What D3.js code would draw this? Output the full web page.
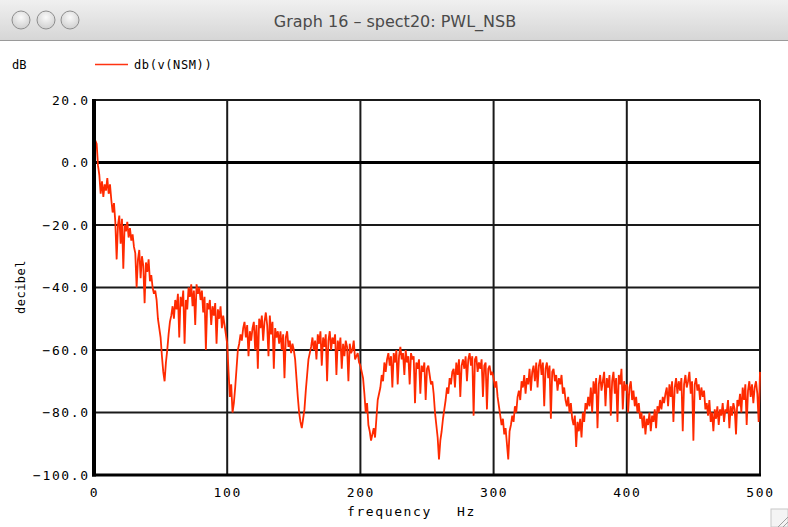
<!DOCTYPE html>
<html>
<head>
<meta charset="utf-8">
<script src="https://cdn.jsdelivr.net/npm/d3@7"></script>
<style>
  body { margin: 0; background: #fff; }
  svg { display: block; }
</style>
</head>
<body>
<script>
'use strict';

// chart text
const windowTitle = "Graph 16 \u2013 spect20: PWL_NSB";
const legendUnit = "dB";
const seriesName = "db(v(NSM))";
const xTitle = "frequency";
const xUnit = "Hz";
const yTitle = "decibel";

// axes
const xTicks = [0, 100, 200, 300, 400, 500];
const yTicks = [20, 0, -20, -40, -60, -80, -100];

// spectrum, one value per Hz starting at 0 Hz
const freqStep = 1;
const dbValues = [
  4, 7, 6, -1, -4, -10, -6, -11, -7, -9,
  -5, -10, -7, -12, -16, -13, -19, -31, -20, -17,
  -26, -18, -34, -20, -22, -19, -24, -21, -25, -23,
  -27, -29, -40, -31, -28, -37, -30, -33, -45, -32,
  -35, -31, -38, -36, -40, -42, -41, -44, -50, -53,
  -56, -62, -67, -70, -64, -60, -55, -51, -49, -46,
  -50, -44, -47, -42, -56, -43, -46, -41, -58, -44,
  -47, -40, -43, -39, -46, -41, -52, -39, -42, -40,
  -44, -41, -48, -43, -60, -45, -47, -44, -52, -46,
  -49, -45, -58, -47, -50, -46, -53, -49, -52, -55,
  -58, -67, -75, -71, -80, -77, -72, -66, -60, -58,
  -55, -57, -53, -51, -56, -52, -62, -54, -57, -53,
  -51, -60, -52, -66, -50, -53, -49, -57, -51, -48,
  -52, -62, -49, -55, -51, -66, -53, -56, -54, -58,
  -54, -60, -55, -69, -56, -54, -59, -57, -61, -58,
  -60, -63, -69, -75, -80, -83, -85, -82, -79, -73,
  -68, -63, -61, -59, -56, -60, -57, -63, -55, -58,
  -54, -65, -56, -59, -55, -70, -57, -54, -60, -56,
  -58, -55, -68, -57, -60, -56, -66, -58, -62, -57,
  -59, -70, -58, -61, -60, -57, -63, -62, -61, -64,
  -65, -67, -69, -74, -80, -77, -84, -86, -89, -87,
  -85, -88, -82, -76, -74, -72, -68, -70, -64, -67,
  -63, -61, -65, -62, -72, -61, -64, -60, -71, -62,
  -59, -63, -61, -68, -60, -64, -62, -71, -61, -63,
  -62, -77, -64, -66, -63, -74, -65, -67, -64, -76,
  -66, -65, -68, -71, -70, -74, -80, -84, -88, -95,
  -89, -86, -82, -79, -76, -72, -74, -69, -71, -67,
  -66, -72, -64, -68, -63, -75, -65, -63, -66, -62,
  -70, -63, -61, -65, -62, -81, -63, -62, -67, -64,
  -66, -63, -75, -65, -64, -79, -66, -65, -68, -67,
  -69, -72, -70, -75, -78, -81, -84, -82, -87, -85,
  -90, -95, -86, -84, -81, -83, -78, -80, -75, -73,
  -76, -70, -72, -68, -74, -69, -71, -66, -73, -67,
  -65, -70, -64, -72, -65, -63, -68, -64, -78, -66,
  -64, -69, -65, -82, -67, -66, -70, -68, -73, -69,
  -71, -68, -74, -72, -76, -78, -75, -80, -77, -82,
  -84, -81, -91, -83, -86, -82, -88, -80, -83, -77,
  -79, -75, -78, -72, -80, -70, -74, -69, -85, -71,
  -68, -73, -70, -67, -78, -69, -72, -68, -81, -70,
  -67, -74, -69, -83, -68, -71, -66, -79, -70, -73,
  -71, -80, -72, -70, -76, -73, -78, -75, -80, -77,
  -82, -80, -85, -81, -87, -82, -84, -80, -86, -81,
  -83, -79, -85, -78, -80, -76, -79, -75, -77, -74,
  -72, -78, -71, -75, -70, -83, -72, -69, -74, -70,
  -73, -69, -86, -71, -68, -72, -70, -67, -74, -70,
  -89, -71, -69, -73, -71, -76, -72, -75, -73, -79,
  -77, -81, -76, -83, -80, -86, -79, -82, -78, -84,
  -79, -81, -77, -83, -79, -80, -76, -85, -78, -81,
  -77, -79, -87, -76, -78, -74, -80, -72, -76, -71,
  -84, -73, -70, -75, -71, -77, -72, -70, -74, -83,
  -67
];

const width = 788, height = 527;
const mono = "'DejaVu Sans Mono', 'Liberation Mono', monospace";

const svg = d3.select('body').append('svg')
  .attr('width', width)
  .attr('height', height);

// window title bar
const defs = svg.append('defs');
const barGrad = defs.append('linearGradient')
  .attr('id', 'bar').attr('x1', 0).attr('y1', 0).attr('x2', 0).attr('y2', 1);
barGrad.append('stop').attr('offset', '0%').attr('stop-color', '#f0f0f0');
barGrad.append('stop').attr('offset', '100%').attr('stop-color', '#d6d6d6');
const btnGrad = defs.append('radialGradient')
  .attr('id', 'btn').attr('cx', '50%').attr('cy', '35%').attr('r', '65%');
btnGrad.append('stop').attr('offset', '0%').attr('stop-color', '#fafafa');
btnGrad.append('stop').attr('offset', '100%').attr('stop-color', '#cfcfcf');

svg.append('rect')
  .attr('x', 0).attr('y', 0)
  .attr('width', width).attr('height', 40)
  .attr('fill', 'url(#bar)');
svg.append('line')
  .attr('x1', 0).attr('x2', width)
  .attr('y1', 40.5).attr('y2', 40.5)
  .attr('stroke', '#9a9a9a');

svg.selectAll('.winbtn')
  .data([21, 46, 70])
  .enter()
  .append('circle')
    .attr('class', 'winbtn')
    .attr('cx', (d) => d)
    .attr('cy', 20)
    .attr('r', 9)
    .attr('fill', 'url(#btn)')
    .attr('stroke', '#8e8e8e')
    .attr('stroke-width', 1);

svg.append('text')
  .attr('x', 395)
  .attr('y', 27)
  .attr('text-anchor', 'middle')
  .style('font-family', "'DejaVu Sans', sans-serif")
  .style('font-size', '16px')
  .attr('fill', '#4a4a4a')
  .text(windowTitle);

// legend
svg.append('text')
  .attr('x', 12).attr('y', 69)
  .style('font-family', mono)
  .style('font-size', '12px')
  .text(legendUnit);
svg.append('line')
  .attr('x1', 95).attr('x2', 128)
  .attr('y1', 64.5).attr('y2', 64.5)
  .attr('stroke', '#ff3311')
  .attr('stroke-width', 1.5);
svg.append('text')
  .attr('x', 134).attr('y', 69)
  .style('font-family', mono)
  .style('font-size', '12px')
  .style('letter-spacing', '0.6px')
  .text(seriesName);

// scales
const xScale = d3.scaleLinear().domain([0, 500]).range([94, 760]);
const yScale = d3.scaleLinear().domain([-100, 20]).range([475, 100]);

// grid
const grid = svg.append('g');
grid.selectAll('.vgrid')
  .data(xTicks.slice(1))
  .enter()
  .append('line')
    .attr('x1', (d) => xScale(d)).attr('x2', (d) => xScale(d))
    .attr('y1', yScale(20)).attr('y2', yScale(-100))
    .attr('stroke', '#1a1a1a')
    .attr('stroke-width', 2);
grid.selectAll('.hgrid')
  .data(yTicks.filter((d) => d !== 0 && d !== -100))
  .enter()
  .append('line')
    .attr('x1', xScale(0)).attr('x2', xScale(500))
    .attr('y1', (d) => yScale(d)).attr('y2', (d) => yScale(d))
    .attr('stroke', '#1a1a1a')
    .attr('stroke-width', 2);

// zero line and axes (thicker)
svg.append('line')
  .attr('x1', xScale(0)).attr('x2', xScale(500))
  .attr('y1', yScale(0)).attr('y2', yScale(0))
  .attr('stroke', '#000').attr('stroke-width', 3);

// spectrum trace
const line = d3.line()
  .x((d, i) => xScale(i * freqStep))
  .y((d) => yScale(d));
svg.append('path')
  .datum(dbValues)
  .attr('d', line)
  .attr('fill', 'none')
  .attr('stroke', '#ff2a00')
  .attr('stroke-width', 1.8)
  .attr('stroke-linejoin', 'bevel');

svg.append('line')
  .attr('x1', xScale(0)).attr('x2', xScale(0))
  .attr('y1', yScale(20) - 1).attr('y2', yScale(-100) + 1.5)
  .attr('stroke', '#000').attr('stroke-width', 4);
svg.append('line')
  .attr('x1', xScale(0) - 2).attr('x2', xScale(500) + 1)
  .attr('y1', yScale(-100)).attr('y2', yScale(-100))
  .attr('stroke', '#000').attr('stroke-width', 3);

// tick labels
const yAxis = d3.axisLeft(yScale)
  .tickValues(yTicks)
  .tickFormat(d3.format('.1f'))
  .tickSize(0)
  .tickPadding(6);
const yG = svg.append('g')
  .attr('transform', `translate(${xScale(0)},0)`)
  .call(yAxis);

const xAxis = d3.axisBottom(xScale)
  .tickValues(xTicks)
  .tickFormat(d3.format('d'))
  .tickSize(0)
  .tickPadding(13);
const xG = svg.append('g')
  .attr('transform', `translate(0,${yScale(-100)})`)
  .call(xAxis);

[yG, xG].forEach((g) => {
  g.select('.domain').remove();
  g.selectAll('text')
    .style('font-family', mono)
    .style('font-size', '13px')
    .style('letter-spacing', '1.6px')
    .attr('fill', '#000');
});
// right aligned labels: remove trailing letter-spacing gap
yG.selectAll('text').attr('dx', '1.6px');

// axis titles
svg.append('text')
  .attr('x', 347).attr('y', 516)
  .style('font-family', mono)
  .style('font-size', '13px')
  .style('letter-spacing', '1.6px')
  .text(xTitle);
svg.append('text')
  .attr('x', 457).attr('y', 516)
  .style('font-family', mono)
  .style('font-size', '13px')
  .style('letter-spacing', '1.6px')
  .text(xUnit);

svg.append('text')
  .attr('transform', 'translate(25, 287)rotate(-90)')
  .attr('text-anchor', 'middle')
  .style('font-family', mono)
  .style('font-size', '12px')
  .style('letter-spacing', '0.5px')
  .text(yTitle);

// resize grip in the corner
const grip = svg.append('g').attr('transform', 'translate(771,509)');
grip.append('rect')
  .attr('width', 17).attr('height', 18)
  .attr('fill', '#f4f4f4')
  .attr('stroke', '#c8c8c8');
grip.selectAll('.gl')
  .data([5, 10])
  .enter()
  .append('line')
    .attr('x1', (d) => 17 - d).attr('y1', 18)
    .attr('x2', 17).attr('y2', (d) => 18 - d)
    .attr('stroke', '#a0a0a0');
</script>
</body>
</html>
